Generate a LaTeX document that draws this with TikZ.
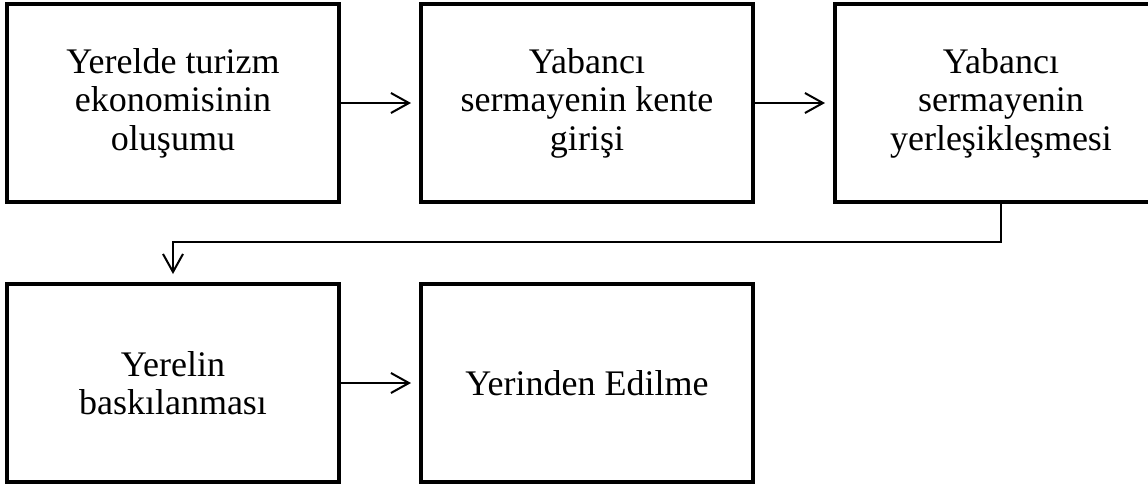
\documentclass[tikz,border=0pt]{standalone}
\usepackage{fontspec}
\setmainfont{Liberation Serif}
\usepackage{tikz}
\usetikzlibrary{positioning}
\usetikzlibrary{arrows.meta}

\begin{document}
\begin{tikzpicture}[
node distance=39pt,
processnode/.style={rectangle, draw=black, line width=2pt, minimum width=166pt, minimum height=99pt, inner sep=0pt, align=center, font=\fontsize{18}{19.25}\selectfont},
textdrop/.style={execute at begin node={\rule{0pt}{#1}}},
flowline/.style={line width=1pt, -{Straight Barb[length=9pt,width=10pt]}, shorten >=4pt},
]
%Frame
\useasboundingbox (-86.5pt,51.5pt) rectangle (487.5pt,-190.5pt);
\clip (-86.5pt,51.5pt) rectangle (487.5pt,-190.5pt);

%Nodes
\node[processnode, textdrop=22pt]	(ekonomi)	at (0,0)				{Yerelde turizm\\ekonomisinin\\oluşumu};
\node[processnode, textdrop=22pt]	(giris)		[right=of ekonomi]		{Yabancı\\sermayenin kente\\girişi};
\node[processnode, textdrop=22pt]	(yerles)	[right=of giris]		{Yabancı\\sermayenin\\yerleşikleşmesi};
\node[processnode, textdrop=17pt]	(baski)		[below=of ekonomi]		{Yerelin\\baskılanması};
\node[processnode]					(edilme)	[right=of baski]		{Yerinden Edilme};

%Lines
\draw[flowline] (ekonomi.east) -- (giris.west);
\draw[flowline] (giris.east) -- (yerles.west);
\draw[flowline] (yerles.south) -- ++(0,-19pt) -| (baski.north);
\draw[flowline] (baski.east) -- (edilme.west);
\end{tikzpicture}
\end{document}
